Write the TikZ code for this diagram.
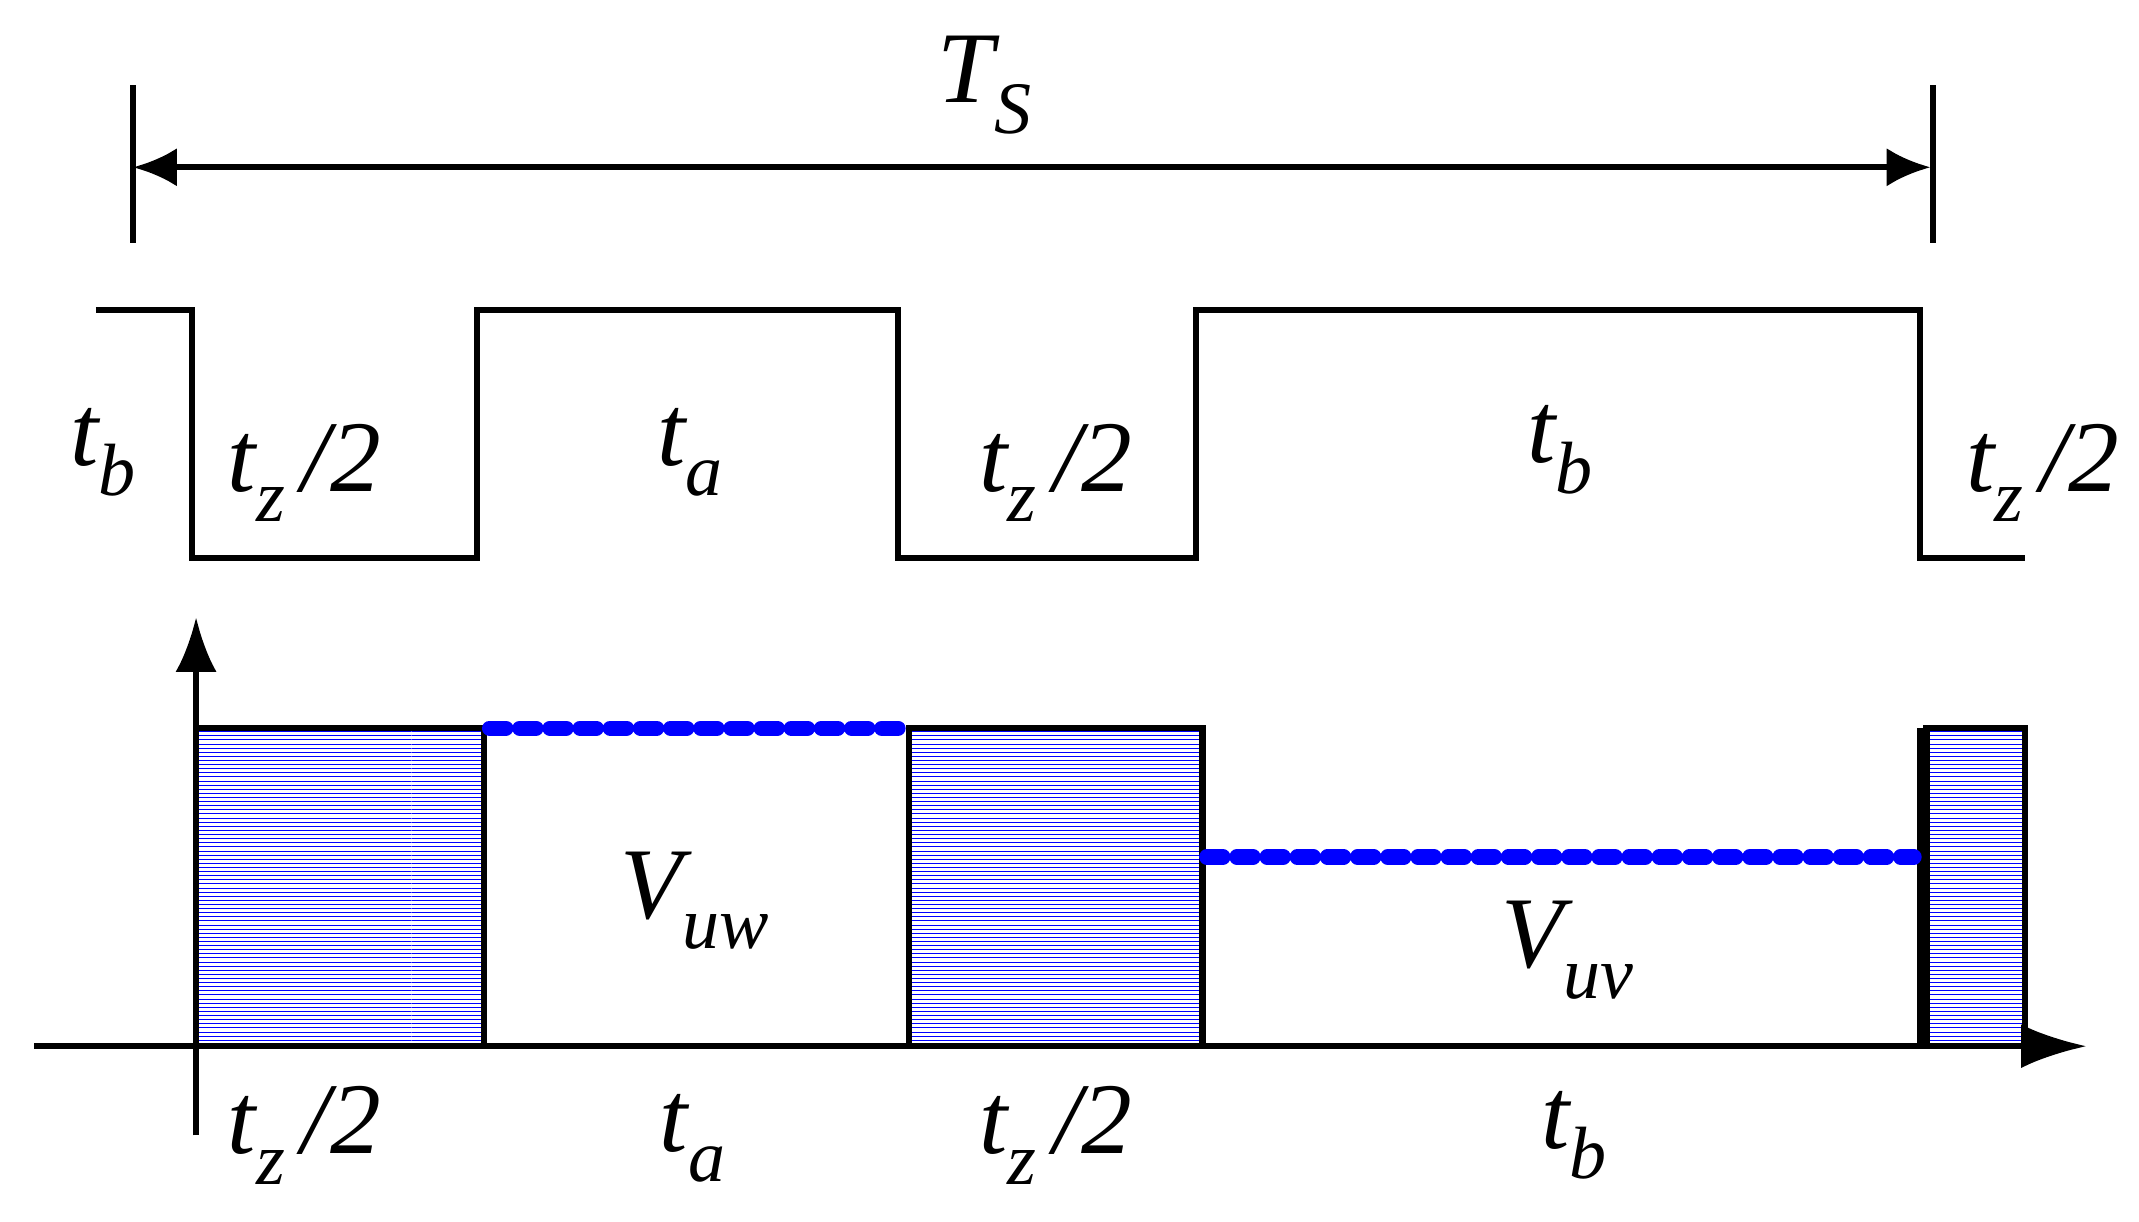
\documentclass[tikz,border=0pt]{standalone}
\usepackage{fontspec}
\setmainfont{Liberation Serif}
\usetikzlibrary{arrows.meta,patterns}
\begin{document}
\begin{tikzpicture}[x=1pt,y=-1pt,
  ln/.style={line width=4.5pt},
  lbl/.style={font=\fontsize{74}{74}\selectfont\itshape},
  bl/.style={draw=blue,line width=11pt,dash pattern=on 12pt off 10pt,line cap=round}]
\useasboundingbox (0,0) rectangle (1560,891);
\newcommand{\sbs}[1]{\raisebox{-0.3em}{\fontsize{54}{54}\selectfont #1}}
% Ts
\coordinate (t1a) at (97,62); \coordinate (t1b) at (97,177);
\coordinate (t2a) at (1410,62); \coordinate (t2b) at (1410,177);
\draw[ln] (t1a)--(t1b); \draw[ln] (t2a)--(t2b);
\coordinate (a1) at (97,122); \coordinate (a2) at (1408,122);
\draw[ln,{Latex[length=32pt,width=28pt]}-{Latex[length=32pt,width=28pt]}] (a1)--(a2);
\node[lbl] (ts) at (718,62) {T\sbs{S}};
% top waveform
\draw[ln] (70,226)--(140,226)--(140,407)--(348,407)--(348,226)--(655,226)--(655,407)--(872,407)--(872,226)--(1400,226)--(1400,407)--(1477,407);
\newcommand{\tz}{t\sbs{z}\,/2}
\newcommand{\tsub}[1]{t\sbs{#1}}
\node[lbl] (l1) at (75,330) {\tsub{b}};
\node[lbl] (l2) at (222,345) {\tz};
\node[lbl] (l3) at (503,330) {\tsub{a}};
\node[lbl] (l4) at (770,345) {\tz};
\node[lbl] (l5) at (1138,328) {\tsub{b}};
\node[lbl] (l6) at (1490,345) {\tz};
% bottom
\fill[pattern=horizontal lines,pattern color=blue] (143,531) rectangle (353,763);
\fill[pattern=horizontal lines,pattern color=blue] (663,531) rectangle (877,763);
\fill[pattern=horizontal lines,pattern color=blue] (1405,531) rectangle (1477,763);
\draw[ln] (143,531) rectangle (353,763);
\draw[ln] (663,531) rectangle (877,763);
\draw[ln] (1405,531) rectangle (1477,763);
\draw[line width=8pt] (1402,531)--(1402,763);
\draw[ln] (1400,625)--(1400,763);
\draw[bl] (357,531)--(660,531);
\draw[bl] (880,625)--(1396,625);
\coordinate (x0) at (25,763); \coordinate (x1) at (1522,763);
\coordinate (y0) at (143,828); \coordinate (y1) at (143,450);
\draw[ln,-{Latex[length=48pt,width=32pt]}] (x0)--(x1);
\draw[ln,-{Latex[length=40pt,width=30pt]}] (y0)--(y1);
\node[lbl] (v1) at (507,657) {V\sbs{uw}};
\node[lbl] (v2) at (1143,693) {V\sbs{uv}};
\node[lbl] (b1) at (222,828) {\tz};
\node[lbl] (b2) at (505,830) {\tsub{a}};
\node[lbl] (b3) at (770,828) {\tz};
\node[lbl] (b4) at (1148,828) {\tsub{b}};
\end{tikzpicture}
\end{document}
